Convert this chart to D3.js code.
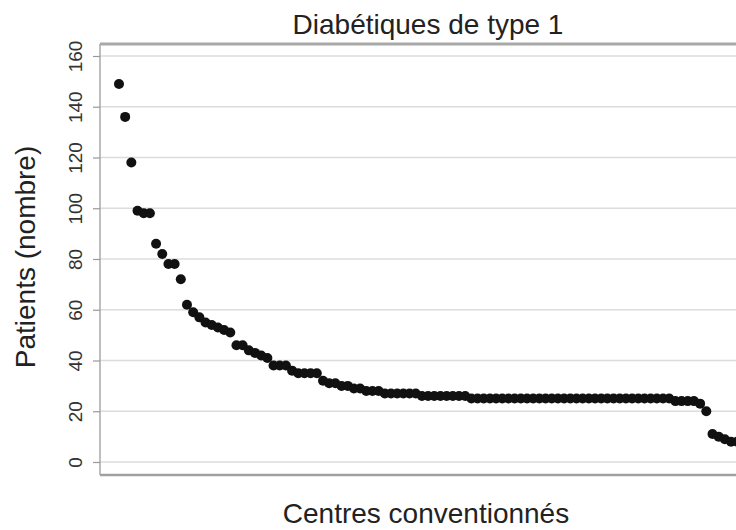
<!DOCTYPE html>
<html>
<head>
<meta charset="utf-8">
<script src="https://cdn.jsdelivr.net/npm/d3@7"></script>
<style>
  body { margin: 0; background: #fff; }
  svg { display: block; font-family: "Liberation Sans", Arial, sans-serif; }
</style>
</head>
<body>
<svg id="chart"></svg>
<script>
// chart data (patients per centre, sorted)
const titleText = 'Diabétiques de type 1';
const xLabel = 'Centres conventionnés';
const yLabel = 'Patients (nombre)';
const yTicks = [0, 20, 40, 60, 80, 100, 120, 140, 160];
const patients = [
  149, 136, 118, 99, 98, 98, 86, 82, 78, 78,
  72, 62, 59, 57, 55, 54, 53, 52, 51, 46,
  46, 44, 43, 42, 41, 38, 38, 38, 36, 35,
  35, 35, 35, 32, 31, 31, 30, 30, 29, 29,
  28, 28, 28, 27, 27, 27, 27, 27, 27, 26,
  26, 26, 26, 26, 26, 26, 26, 25, 25, 25,
  25, 25, 25, 25, 25, 25, 25, 25, 25, 25,
  25, 25, 25, 25, 25, 25, 25, 25, 25, 25,
  25, 25, 25, 25, 25, 25, 25, 25, 25, 25,
  24, 24, 24, 24, 23, 20, 11, 10, 9, 8,
  8
];

const svgWidth = 736, svgHeight = 530;
const frame = { left: 100, right: 757, top: 44, bottom: 475 };

const svg = d3.select('#chart')
  .attr('width', svgWidth)
  .attr('height', svgHeight);

const x = d3.scaleLinear()
  .domain([-3.07, 103.2])
  .range([frame.left, frame.right]);
const y = d3.scaleLinear()
  .domain([0, 160])
  .range([462, 56]);

// grid lines
svg.append('g')
  .selectAll('line')
  .data(yTicks)
  .enter()
  .append('line')
  .attr('x1', frame.left)
  .attr('x2', frame.right)
  .attr('y1', d => y(d))
  .attr('y2', d => y(d))
  .attr('stroke', '#dcdcdc')
  .attr('stroke-width', 1.5);

// frame
svg.append('line')
  .attr('x1', frame.left).attr('x2', frame.right)
  .attr('y1', frame.top).attr('y2', frame.top)
  .attr('stroke', '#a8a8a8').attr('stroke-width', 3);
svg.append('line')
  .attr('x1', frame.left).attr('x2', frame.right)
  .attr('y1', frame.bottom).attr('y2', frame.bottom)
  .attr('stroke', '#a0a0a0').attr('stroke-width', 2.5);
svg.append('line')
  .attr('x1', frame.left).attr('x2', frame.left)
  .attr('y1', frame.top).attr('y2', frame.bottom)
  .attr('stroke', '#a8a8a8').attr('stroke-width', 1.5);

// y axis
const yAxis = d3.axisLeft(y)
  .tickValues(yTicks)
  .tickSize(7)
  .tickPadding(0)
  .tickFormat(d3.format('d'));
const gY = svg.append('g')
  .attr('transform', 'translate(' + frame.left + ',0)')
  .call(yAxis);
gY.select('.domain').remove();
gY.selectAll('.tick line').attr('stroke', '#999').attr('stroke-width', 1.2);
gY.selectAll('.tick text')
  .attr('transform', 'rotate(-90)')
  .attr('x', 0)
  .attr('y', -18)
  .attr('dy', 0)
  .attr('text-anchor', 'middle')
  .attr('font-size', 19)
  .attr('fill', '#333');

// points
svg.append('g')
  .selectAll('circle')
  .data(patients)
  .enter()
  .append('circle')
  .attr('cx', (d, i) => x(i))
  .attr('cy', d => y(d))
  .attr('r', 5)
  .attr('fill', '#111');

// texts
svg.append('text')
  .attr('x', 428)
  .attr('y', 34)
  .attr('text-anchor', 'middle')
  .attr('font-size', 28)
  .attr('fill', '#222')
  .text(titleText);

svg.append('text')
  .attr('x', 426)
  .attr('y', 523)
  .attr('text-anchor', 'middle')
  .attr('font-size', 28)
  .attr('fill', '#222')
  .text(xLabel);

svg.append('text')
  .attr('transform', 'translate(35,257) rotate(-90)')
  .attr('text-anchor', 'middle')
  .attr('font-size', 28)
  .attr('fill', '#222')
  .text(yLabel);
</script>
</body>
</html>
